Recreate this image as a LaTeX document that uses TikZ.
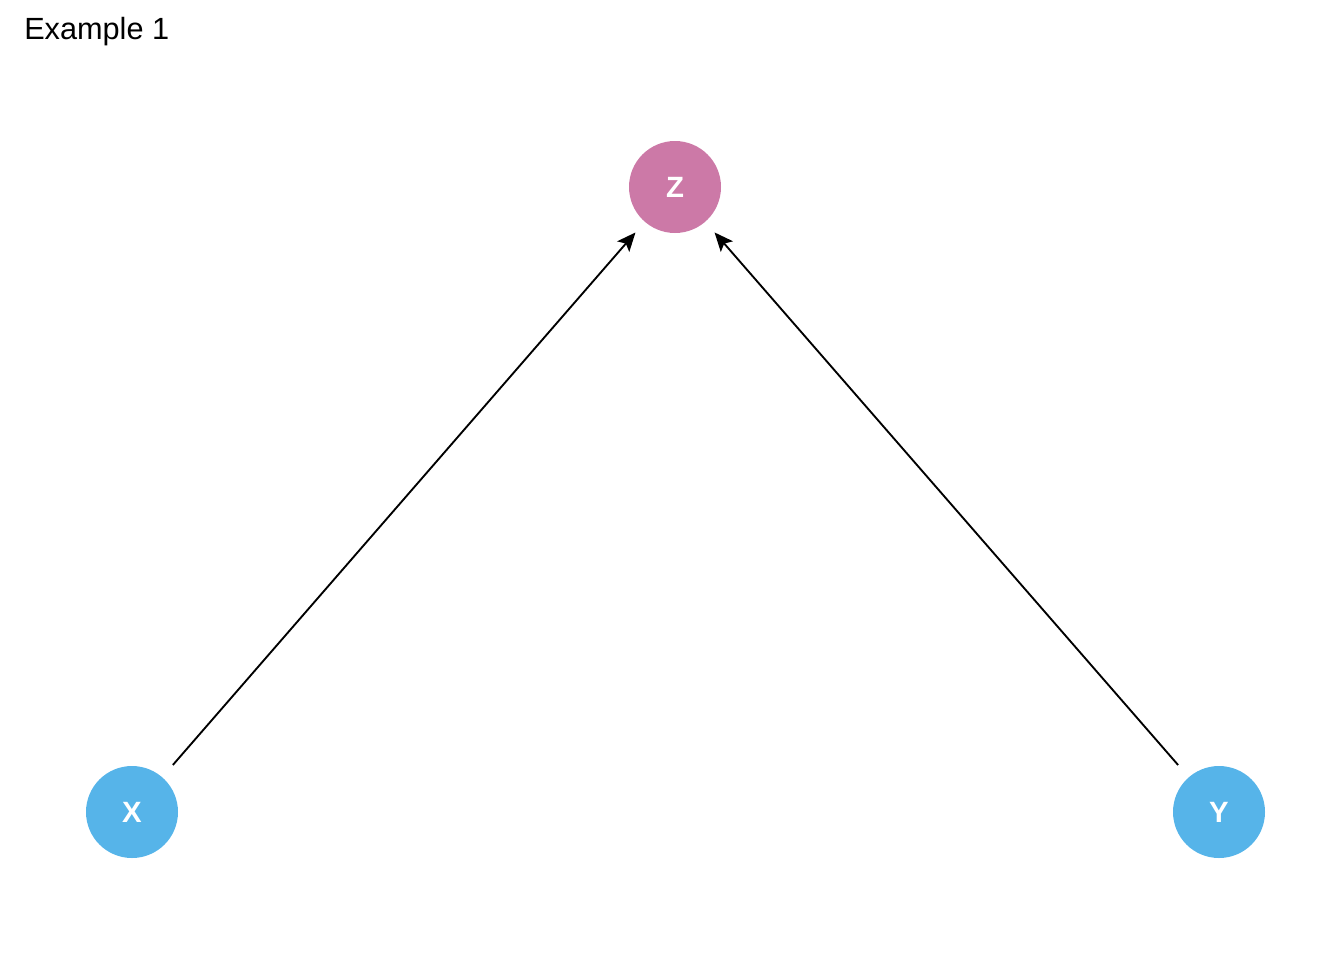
\documentclass[tikz,border=0pt]{standalone}
\usepackage{fontspec}
\setmainfont{Liberation Sans}
\usetikzlibrary{arrows.meta}
\definecolor{zpink}{HTML}{CC79A7}
\definecolor{skyblue}{HTML}{56B4E9}
\tikzset{
  dagnode/.style={circle, minimum size=69pt, inner sep=0pt, text=white, font=\fontsize{22}{22}\selectfont\bfseries},
  dagedge/.style={-{Stealth[length=14pt,width=12pt,inset=3pt]}, line width=1.4pt, black, shorten <=12pt, shorten >=10.5pt},
}
\begin{document}
\begin{tikzpicture}[x=0.75pt,y=-0.75pt]
\useasboundingbox (0,0) rectangle (1344,960);
\node[anchor=base west, font=\fontsize{23}{23}\selectfont, inner sep=0pt] (title) at (24,39) {Example 1};
\node[dagnode, fill=zpink] (z) at (675,187) {\textbf{Z}};
\node[dagnode, fill=skyblue] (x) at (132,812) {\textbf{X}};
\node[dagnode, fill=skyblue] (y) at (1219,812) {\textbf{Y}};
\draw[dagedge] (x) -- (z);
\draw[dagedge] (y) -- (z);
\end{tikzpicture}
\end{document}
